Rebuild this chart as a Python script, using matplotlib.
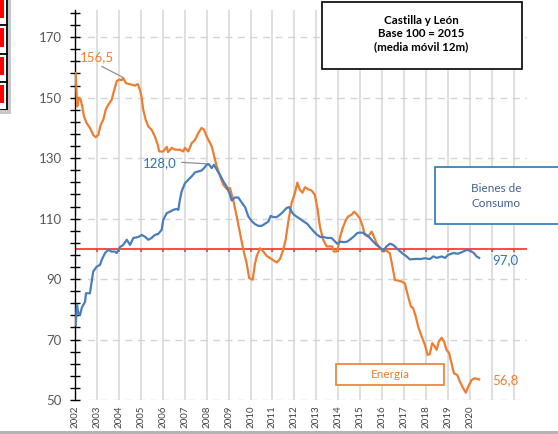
import matplotlib
matplotlib.use("Agg")
import matplotlib.pyplot as plt
from matplotlib.patches import Rectangle
from matplotlib.lines import Line2D
import numpy as np

plt.rcParams['font.family'] = ['Lato', 'DejaVu Sans']

# Energia (indice, media movil 12m)
energia_t = [2002.03, 2002.10, 2002.18, 2002.26, 2002.33, 2002.41, 2002.53, 2002.68, 2002.83, 2002.94,
             2003.06, 2003.17, 2003.29, 2003.40, 2003.52, 2003.67, 2003.79, 2003.90, 2004.00, 2004.13,
             2004.20, 2004.32, 2004.58, 2004.73, 2004.86, 2004.96, 2005.04, 2005.11, 2005.22, 2005.34,
             2005.49, 2005.64, 2005.77, 2005.84, 2006.02, 2006.18, 2006.24, 2006.41, 2006.56, 2006.78,
             2006.93, 2007.01, 2007.16, 2007.32, 2007.47, 2007.62, 2007.77, 2007.88, 2008.00, 2008.23,
             2008.38, 2008.46, 2008.61, 2008.76, 2008.91, 2009.06, 2009.21, 2009.37, 2009.52, 2009.67,
             2009.82, 2009.94, 2010.10, 2010.20, 2010.28, 2010.43, 2010.58, 2010.73, 2010.96, 2011.19,
             2011.34, 2011.49, 2011.60, 2011.72, 2011.87, 2012.02, 2012.13, 2012.25, 2012.37, 2012.48,
             2012.63, 2012.78, 2012.93, 2013.06, 2013.16, 2013.31, 2013.47, 2013.62, 2013.72, 2013.80,
             2013.92, 2014.00, 2014.07, 2014.20, 2014.35, 2014.45, 2014.61, 2014.72, 2014.83, 2014.98,
             2015.11, 2015.21, 2015.36, 2015.52, 2015.62, 2015.74, 2015.90, 2016.05, 2016.20, 2016.35,
             2016.47, 2016.58, 2016.73, 2016.88, 2017.03, 2017.18, 2017.31, 2017.41, 2017.53, 2017.64,
             2017.80, 2017.95, 2018.07, 2018.17, 2018.28, 2018.37, 2018.48, 2018.58, 2018.71, 2018.82,
             2018.93, 2019.05, 2019.16, 2019.27, 2019.42, 2019.54, 2019.69, 2019.81, 2019.92, 2020.07,
             2020.22, 2020.42]
energia_v = [158.2, 147.1, 150.0, 149.3, 147.0, 143.8, 141.6, 140.0, 137.7, 136.9,
             137.7, 141.0, 142.7, 146.0, 147.7, 149.3, 152.6, 155.4, 156.0, 155.8,
             156.5, 154.8, 154.3, 154.0, 154.5, 152.6, 149.9, 146.0, 142.7, 140.5,
             139.4, 137.2, 134.4, 132.2, 132.2, 133.7, 132.0, 133.4, 132.8, 132.8,
             132.2, 133.4, 132.2, 135.0, 136.0, 138.3, 140.0, 139.4, 137.2, 133.9,
             129.5, 127.3, 124.0, 121.2, 119.8, 120.1, 116.2, 110.7, 105.2, 99.7,
             95.3, 90.3, 89.8, 95.0, 97.5, 100.2, 99.1, 97.7, 96.6, 95.5,
             96.6, 99.7, 103.0, 109.0, 115.1, 118.4, 121.9, 119.5, 118.6, 120.4,
             119.7, 119.3, 117.9, 112.9, 107.4, 103.0, 100.8, 100.8, 100.8, 99.1,
             99.1, 100.8, 103.6, 106.9, 109.6, 110.7, 111.3, 112.3, 111.5, 110.1,
             107.4, 104.6, 104.1, 105.7, 104.1, 101.9, 100.2, 99.1, 99.4, 98.5,
             94.1, 89.7, 89.5, 89.2, 88.6, 84.3, 80.9, 80.4, 77.6, 74.3,
             71.0, 68.2, 64.9, 65.2, 68.8, 68.0, 66.6, 69.3, 70.6, 69.3,
             66.6, 65.5, 62.1, 58.8, 58.3, 56.1, 53.9, 52.4, 54.4, 56.6,
             57.2, 56.8]

# Bienes de consumo
consumo_t = [2002.03, 2002.09, 2002.15, 2002.23, 2002.31, 2002.38, 2002.46, 2002.50, 2002.68, 2002.83,
             2002.99, 2003.14, 2003.22, 2003.37, 2003.52, 2003.67, 2003.82, 2003.90, 2004.05, 2004.20,
             2004.36, 2004.51, 2004.66, 2004.88, 2005.04, 2005.19, 2005.34, 2005.49, 2005.64, 2005.79,
             2005.95, 2006.02, 2006.18, 2006.33, 2006.48, 2006.63, 2006.71, 2006.78, 2006.86, 2007.01,
             2007.16, 2007.32, 2007.47, 2007.62, 2007.77, 2007.88, 2008.00, 2008.10, 2008.23, 2008.33,
             2008.46, 2008.61, 2008.76, 2008.91, 2009.06, 2009.14, 2009.29, 2009.44, 2009.59, 2009.75,
             2009.90, 2010.05, 2010.20, 2010.35, 2010.51, 2010.66, 2010.81, 2010.92, 2011.04, 2011.19,
             2011.34, 2011.49, 2011.64, 2011.76, 2011.87, 2011.98, 2012.13, 2012.28, 2012.43, 2012.58,
             2012.74, 2012.89, 2013.04, 2013.19, 2013.34, 2013.49, 2013.69, 2013.85, 2013.95, 2014.10,
             2014.26, 2014.41, 2014.56, 2014.71, 2014.86, 2014.98, 2015.13, 2015.29, 2015.44, 2015.59,
             2015.74, 2015.90, 2016.05, 2016.20, 2016.35, 2016.50, 2016.66, 2016.81, 2016.96, 2017.11,
             2017.26, 2017.41, 2017.64, 2017.72, 2017.95, 2018.17, 2018.33, 2018.48, 2018.71, 2018.86,
             2019.01, 2019.23, 2019.46, 2019.69, 2019.87, 2020.03, 2020.18, 2020.30, 2020.42]
consumo_v = [74.8, 81.5, 78.8, 78.1, 80.5, 81.5, 82.5, 85.3, 85.3, 92.5,
             94.1, 94.7, 96.4, 98.6, 99.7, 99.1, 99.1, 98.6, 100.6, 101.3,
             103.0, 101.3, 103.6, 103.9, 104.6, 104.0, 103.0, 103.6, 104.6, 104.9,
             106.3, 109.6, 111.8, 112.3, 112.9, 113.2, 112.9, 116.2, 119.0, 121.7,
             122.8, 124.0, 125.3, 125.6, 125.9, 126.7, 127.8, 128.0, 126.7, 127.8,
             126.2, 124.5, 122.3, 120.6, 118.0, 116.0, 117.0, 117.0, 115.4, 113.8,
             110.7, 109.2, 108.2, 107.6, 107.6, 108.3, 109.0, 110.9, 110.5, 110.5,
             111.3, 112.3, 113.5, 113.8, 112.3, 111.3, 110.5, 109.8, 109.0, 108.3,
             106.9, 105.7, 104.6, 103.9, 103.9, 103.6, 103.6, 102.4, 101.7, 102.4,
             102.2, 102.4, 103.2, 104.1, 105.2, 105.4, 105.3, 104.6, 103.6, 102.4,
             101.3, 100.4, 99.4, 100.8, 101.7, 101.3, 100.2, 99.2, 98.3, 97.5,
             96.5, 96.6, 96.7, 96.6, 96.9, 96.6, 97.5, 97.0, 97.5, 97.0,
             98.0, 98.6, 98.4, 99.1, 99.7, 99.3, 98.6, 97.5, 97.0]

years = list(range(2002, 2021))
base = 100

ORANGE = '#ed7d31'
BLUE_LINE = '#4a7ebb'
BLUE_TXT = '#2e75b6'
W, H = 558, 434


def fx(x):
    return x / W


def fy(y):
    return 1 - y / H


def coma(v):
    return f"{v:.1f}".replace('.', ',')


fig = plt.figure(figsize=(W / 100, H / 100), dpi=100)
ax = fig.add_axes([fx(75), fy(400), fx(527) - fx(75), fy(10) - fy(400)])

ax.set_xlim(2002, 2022.6)
ax.set_ylim(50, 179)

# rejilla
for yr in range(2003, 2023):
    ax.axvline(yr, color='#dcdcdc', lw=1.3, zorder=0)
for v in range(50, 171, 20):
    ax.axhline(v, color='#d4d4d4', lw=1.0, ls=(0, (5, 4)), zorder=0)

# eje de categorias en 100
ax.axhline(base, color='#ff3b3b', lw=1.3, zorder=1)
ax.vlines(years[1:] + [2021, 2022], base - 1.2, base, color='#ff3b3b', lw=1.2, zorder=1)

ax.plot(energia_t, energia_v, color=ORANGE, lw=1.6, zorder=3)
ax.plot(consumo_t, consumo_v, color=BLUE_LINE, lw=1.6, zorder=3)

for s in ['top', 'right', 'bottom']:
    ax.spines[s].set_visible(False)
ax.spines['left'].set_color('black')
ax.spines['left'].set_linewidth(1.0)

ax.set_yticks(range(50, 171, 20))
ax.set_yticks(np.arange(50, 179, 4), minor=True)
ax.tick_params(axis='y', which='both', direction='inout', length=7, width=1, color='black',
               labelsize=9.5, labelcolor='#595959', pad=6)
ax.set_xticks(years)
ax.set_xticklabels([str(y) for y in years], rotation=90, fontsize=7, color='#404040')
ax.tick_params(axis='x', length=0, pad=4)

# etiquetas de valores: pico de 2004 y pico de 2008
i_e = energia_t.index(2004.20)
i_c = consumo_v.index(max(consumo_v))
ax.text(2003.0, 163.3, coma(energia_v[i_e]), color=ORANGE, fontsize=9.5, ha='center', va='center')
ax.add_line(Line2D([2003.23, energia_t[i_e] - 0.01], [160.3, energia_v[i_e] + 0.2], color='#909090', lw=0.9))
ax.text(2005.87, 128.5, coma(consumo_v[i_c]), color=BLUE_TXT, fontsize=9.5, ha='center', va='center')
ax.add_line(Line2D([2006.87, consumo_t[i_c] - 0.04], [128.6, consumo_v[i_c] + 0.1], color='#909090', lw=0.9))
ax.text(2021.0, 96.4, coma(consumo_v[-1]), color=BLUE_TXT, fontsize=9.5, ha='left', va='center')
ax.text(2021.0, 56.6, coma(energia_v[-1]), color=ORANGE, fontsize=9.5, ha='left', va='center')

# cuadros de texto
fig.patches.append(Rectangle((fx(321.5), fy(68.5)), fx(200), fy(0) - fy(66.5), transform=fig.transFigure,
                             fill=True, facecolor='white', edgecolor='black', lw=1.2, zorder=5))
fig.text(fx(421.5), fy(33.5), "Castilla y León\nBase 100 = 2015\n(media móvil 12m)", ha='center', va='center',
         fontsize=8.3, fontweight='bold', color='black', linespacing=1.25, zorder=6)

fig.patches.append(Rectangle((fx(435), fy(223.5)), fx(140), fy(167) - fy(223.5), transform=fig.transFigure,
                             facecolor='white', edgecolor=BLUE_TXT, lw=1.2, zorder=5))
fig.text(fx(496.5), fy(196), "Bienes de\nConsumo", ha='center', va='center', fontsize=8.5,
         color='#44618f', linespacing=1.5, zorder=6)

fig.patches.append(Rectangle((fx(336), fy(384.5)), fx(108), fy(364) - fy(384.5), transform=fig.transFigure,
                             facecolor='white', edgecolor=ORANGE, lw=1.2, zorder=5))
fig.text(fx(390), fy(374.5), "Energía", ha='center', va='center', fontsize=8.5, color=ORANGE, zorder=6)

# restos del borde izquierdo de la captura
for y0, y1 in [(0, 18), (28, 47), (57, 75), (85, 103)]:
    fig.patches.append(Rectangle((fx(0), fy(y1)), fx(4), fy(y0) - fy(y1), transform=fig.transFigure,
                                 facecolor='#ff0000', edgecolor='none', zorder=5))
fig.patches.append(Rectangle((fx(8), fy(112)), fx(3), fy(0) - fy(112), transform=fig.transFigure,
                             facecolor='#c8c8c8', edgecolor='none', zorder=4))
fig.patches.append(Rectangle((fx(0), fy(114)), fx(11), fy(110) - fy(114), transform=fig.transFigure,
                             facecolor='#c8c8c8', edgecolor='none', zorder=4))
fig.add_artist(Line2D([fx(7), fx(7)], [fy(0), fy(110)], color='black', lw=1.3, transform=fig.transFigure))
for yl in [25, 54, 82, 110]:
    fig.add_artist(Line2D([fx(0), fx(7)], [fy(yl), fy(yl)], color='black', lw=1.3, transform=fig.transFigure))

# linea gris inferior
fig.patches.append(Rectangle((0, 0), 1, 3 / H, transform=fig.transFigure,
                             facecolor='#b4b4b4', edgecolor='none', zorder=4))

fig.savefig('out.png', dpi=100)
